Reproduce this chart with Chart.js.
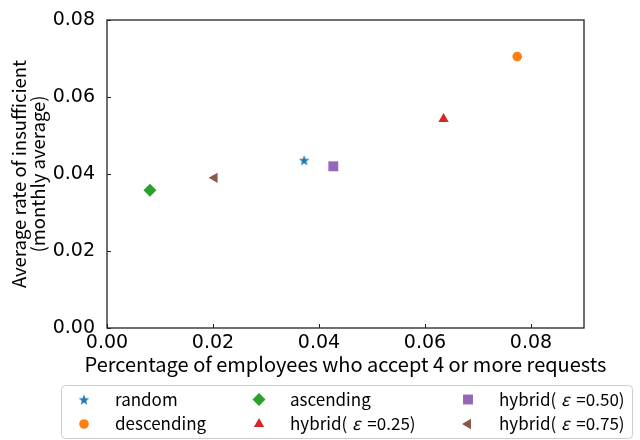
<!DOCTYPE html>
<html>
<head>
<meta charset="utf-8">
<script src="https://cdn.jsdelivr.net/npm/chart.js@4/dist/chart.umd.min.js"></script>
<style>
  html, body { margin: 0; padding: 0; background: #fff; }
  #wrap { width: 640px; height: 440px; position: relative; }
</style>
</head>
<body>
<div id="wrap"><canvas id="chart" width="640" height="440"></canvas></div>
<script>
const methods = ['random', 'descending', 'ascending', 'hybrid0.25', 'hybrid0.50', 'hybrid0.75'];
const epsilons = [null, null, null, '0.25', '0.50', '0.75'];
const xValues = [0.0372, 0.0774, 0.0081, 0.0635, 0.0427, 0.0203];
const yValues = [0.0436, 0.0705, 0.0358, 0.0543, 0.0420, 0.0390];
const colors = ['#1f77b4', '#ff7f0e', '#2ca02c', '#d62728', '#9467bd', '#8c564b'];
const xTickValues = [0, 0.02, 0.04, 0.06, 0.08];
const xTickLabels = ['0.00', '0.02', '0.04', '0.06', '0.08'];
const yTickValues = [0, 0.02, 0.04, 0.06, 0.08];
const yTickLabels = ['0.00', '0.02', '0.04', '0.06', '0.08'];
const xTitle = 'Percentage of employees who accept 4 or more requests';
const yTitle = ['Average rate of insufficient', '(monthly average)'];

const titleFont = "'Noto Sans CJK JP', 'Noto Sans', sans-serif";
const tickFont = "'DejaVu Sans', sans-serif";

// filled five-point star, matplotlib '*'
function starImage(color) {
    const c = document.createElement('canvas');
    c.width = 12; c.height = 12;
    const g = c.getContext('2d');
    g.fillStyle = color;
    g.beginPath();
    for (let i = 0; i < 10; i++) {
        const r = i % 2 === 0 ? 5.6 : 2.3;
        const a = -Math.PI / 2 + i * Math.PI / 5;
        const px = 6 + r * Math.cos(a), py = 6.6 + r * Math.sin(a);
        i === 0 ? g.moveTo(px, py) : g.lineTo(px, py);
    }
    g.closePath();
    g.fill();
    return c;
}

const markers = [
    { style: starImage(colors[0]), radius: 5, rotation: 0 },
    { style: 'circle', radius: 4.8, rotation: 0 },
    { style: 'rectRot', radius: 6.5, rotation: 0 },
    { style: 'triangle', radius: 6, rotation: 0 },
    { style: 'rect', radius: 7, rotation: 0 },
    { style: 'triangle', radius: 6, rotation: -90 }
];

const datasets = methods.map((m, i) => ({
    label: m,
    data: [{ x: xValues[i], y: yValues[i] }],
    backgroundColor: colors[i],
    borderColor: colors[i],
    borderWidth: 0,
    pointStyle: markers[i].style,
    pointRadius: markers[i].radius,
    pointHoverRadius: markers[i].radius,
    pointRotation: markers[i].rotation
}));

// box spines, inward ticks and the x title (Chart.js would squeeze it to the axis width)
const framePlugin = {
    id: 'frame',
    afterDraw(chart) {
        const { ctx, chartArea: a, scales } = chart;
        ctx.save();
        ctx.strokeStyle = '#222';
        ctx.lineWidth = 1.3;
        ctx.strokeRect(a.left, a.top, a.right - a.left, a.bottom - a.top);
        ctx.lineWidth = 1;
        ctx.beginPath();
        xTickValues.forEach(v => {
            const px = Math.round(scales.x.getPixelForValue(v)) + 0.5;
            ctx.moveTo(px, a.bottom);
            ctx.lineTo(px, a.bottom - 4);
        });
        yTickValues.forEach(v => {
            const py = Math.round(scales.y.getPixelForValue(v)) + 0.5;
            ctx.moveTo(a.left, py);
            ctx.lineTo(a.left + 4, py);
        });
        ctx.stroke();
        ctx.fillStyle = '#000';
        ctx.font = `20px ${titleFont}`;
        ctx.textAlign = 'center';
        ctx.textBaseline = 'alphabetic';
        ctx.fillText(xTitle, (a.left + a.right) / 2, 372);
        ctx.restore();
    }
};

// three-column legend below the axes, filled column by column
const legendPlugin = {
    id: 'boxLegend',
    afterDraw(chart) {
        const ctx = chart.ctx;
        const box = { x: 61, y: 385, w: 571, h: 53 };
        const colX = [[84, 115], [259, 290], [468, 499]];
        const rowY = [399.5, 424];
        ctx.save();
        ctx.fillStyle = 'rgba(255,255,255,0.8)';
        ctx.strokeStyle = '#cccccc';
        ctx.lineWidth = 1;
        ctx.beginPath();
        ctx.roundRect(box.x + 0.5, box.y + 0.5, box.w, box.h, 4);
        ctx.fill();
        ctx.stroke();
        methods.forEach((m, i) => {
            const col = Math.floor(i / 2), row = i % 2;
            const mx = colX[col][0], tx = colX[col][1], y = rowY[row];
            const mk = markers[i];
            ctx.fillStyle = colors[i];
            ctx.beginPath();
            Chart.helpers.drawPoint(ctx, {
                pointStyle: mk.style,
                radius: mk.radius,
                rotation: mk.rotation,
                borderWidth: 0
            }, mx, y);
            ctx.fillStyle = '#000';
            ctx.textBaseline = 'alphabetic';
            ctx.textAlign = 'left';
            const base = y + 6;
            ctx.font = `17px ${titleFont}`;
            if (epsilons[i] === null) {
                ctx.fillText(m, tx, base);
            } else {
                let x = tx;
                ctx.fillText('hybrid( ', x, base);
                x += ctx.measureText('hybrid( ').width + 1;
                ctx.font = `italic 17px ${titleFont}`;
                ctx.fillText('ε', x, base);
                x += ctx.measureText('ε').width + 3;
                ctx.font = `17px ${titleFont}`;
                ctx.fillText(' =' + epsilons[i] + ')', x, base);
            }
        });
        ctx.restore();
    }
};

new Chart(document.getElementById('chart').getContext('2d'), {
    type: 'scatter',
    data: { datasets },
    options: {
        responsive: false,
        animation: false,
        events: [],
        layout: { padding: { left: 0, top: 20, right: 56, bottom: 60 } },
        plugins: { legend: { display: false }, tooltip: { enabled: false } },
        scales: {
            x: {
                type: 'linear',
                min: 0,
                max: 0.09,
                grid: { display: false },
                border: { display: false },
                afterBuildTicks: s => { s.ticks = xTickValues.map(v => ({ value: v })); },
                afterFit: s => { s.height = 52; },
                ticks: {
                    padding: -4,
                    color: '#000',
                    font: { family: tickFont, size: 19 },
                    callback: (v, i) => xTickLabels[i]
                },
                title: { display: false }
            },
            y: {
                type: 'linear',
                min: 0,
                max: 0.08,
                grid: { display: false },
                border: { display: false },
                afterBuildTicks: s => { s.ticks = yTickValues.map(v => ({ value: v })); },
                afterFit: s => { s.width = 107; },
                ticks: {
                    padding: 4,
                    color: '#000',
                    font: { family: tickFont, size: 19 },
                    callback: (v, i) => yTickLabels[i]
                },
                title: {
                    display: true,
                    text: yTitle,
                    color: '#000',
                    font: { family: titleFont, size: 18.5, lineHeight: '19px' },
                    padding: { top: 9.5, bottom: 0 }
                }
            }
        }
    },
    plugins: [framePlugin, legendPlugin]
});
</script>
</body>
</html>
